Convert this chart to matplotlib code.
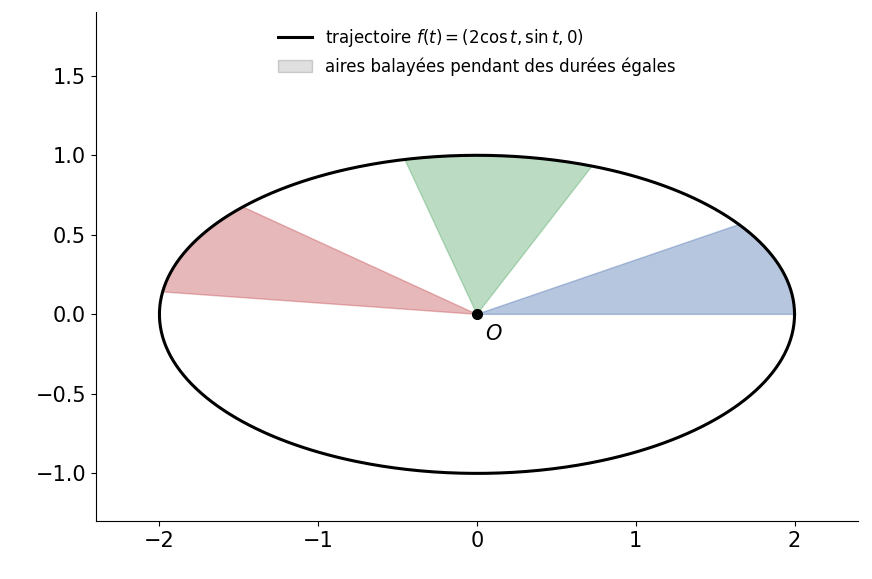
import numpy as np
import matplotlib.pyplot as plt

# trajectory parameters: x = a cos t, y = b sin t
a, b = 2.0, 1.0
# sectors swept over equal parameter intervals (equal areas)
t_starts = [0.0, 1.2, 2.4]
t_length = 0.6
sector_colors = ['#4c72b0', '#55a868', '#c44e52']

fig, ax = plt.subplots(figsize=(8.72, 5.79), dpi=100)
fig.subplots_adjust(left=0.11, right=0.984, top=0.979, bottom=0.10)

t = np.linspace(0, 2 * np.pi, 600)
ax.plot(a * np.cos(t), b * np.sin(t), color='k', lw=2.2,
        label=r'trajectoire $f(t) = (2\cos t, \sin t, 0)$')

for i, (t0, c) in enumerate(zip(t_starts, sector_colors)):
    ts = np.linspace(t0, t0 + t_length, 100)
    xs = np.concatenate([[0], a * np.cos(ts), [0]])
    ys = np.concatenate([[0], b * np.sin(ts), [0]])
    ax.fill(xs, ys, color=c, alpha=0.4, lw=1,
            label='aires balayées pendant des durées égales' if i == 0 else None)

ax.plot(0, 0, 'ko', ms=7)
ax.text(0.05, -0.06, r'$O$', fontsize=15, va='top')

ax.set_xlim(-2.4, 2.4)
ax.set_ylim(-1.3, 1.9)
ax.set_xticks([-2, -1, 0, 1, 2])
ax.set_yticks([-1.0, -0.5, 0.0, 0.5, 1.0, 1.5])
ax.tick_params(labelsize=15)
ax.spines['top'].set_visible(False)
ax.spines['right'].set_visible(False)

handles, labels = ax.get_legend_handles_labels()
leg = ax.legend(loc='upper center', frameon=False, fontsize=12)
for h in leg.legend_handles[1:]:
    h.set_facecolor('#b0b0b0')
    h.set_edgecolor('#909090')

plt.savefig('out.png', dpi=100)
